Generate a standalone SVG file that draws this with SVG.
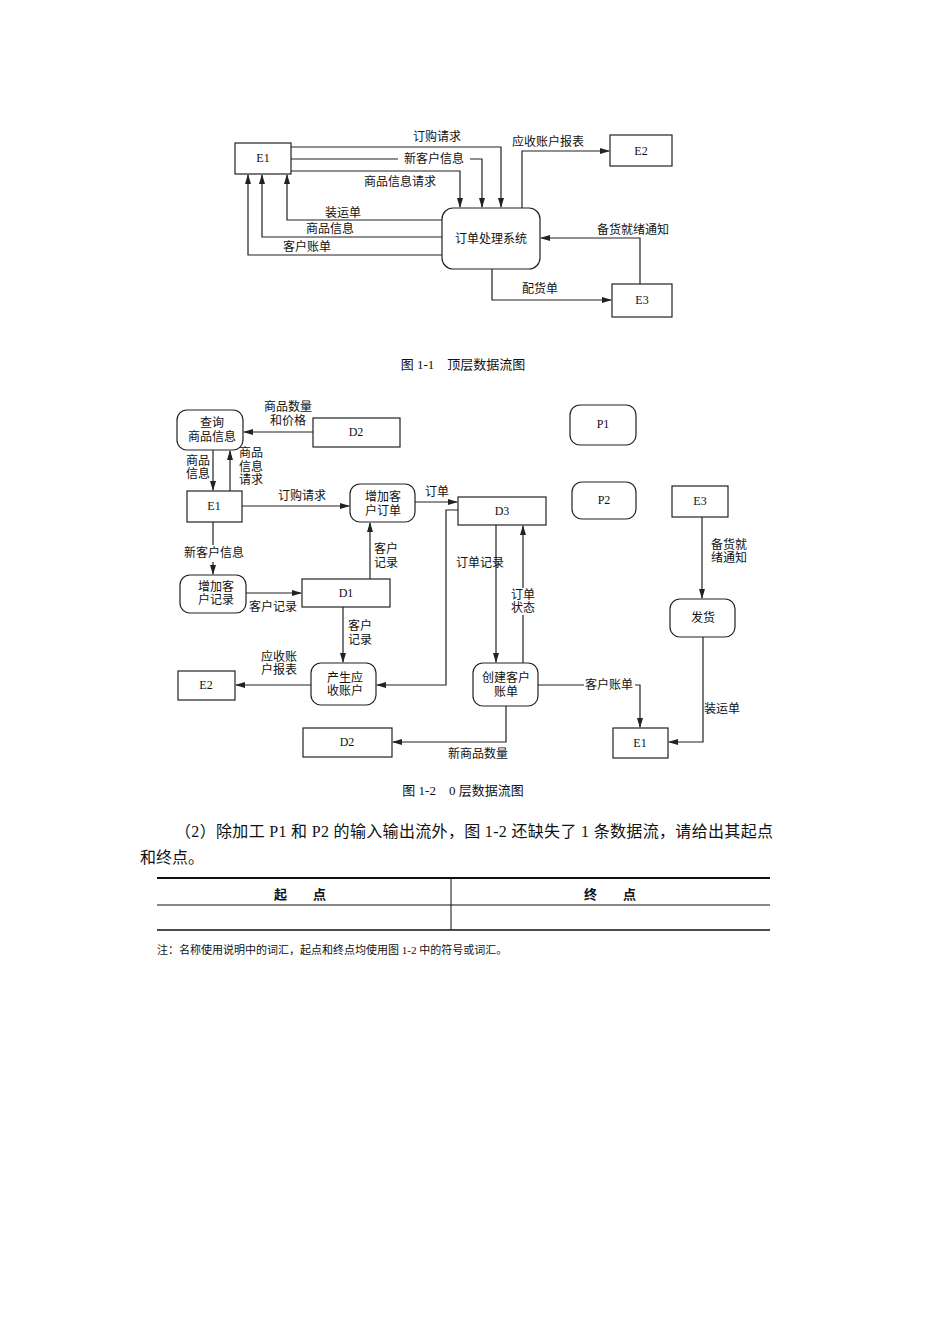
<svg xmlns="http://www.w3.org/2000/svg" width="950" height="1344" viewBox="0 0 950 1344">
<style>
.b{fill:#fff;stroke:#222;stroke-width:1.2}
.l{fill:none;stroke:#222;stroke-width:1.2}
.t{font-family:"Liberation Serif","Noto Sans CJK SC",serif;font-size:12px;fill:#111;text-anchor:middle;dominant-baseline:central}
.c{font-size:13px}
.p{font-size:16px;text-anchor:start}
</style>
<defs><marker id="a" markerWidth="10" markerHeight="8" refX="9" refY="4" orient="auto" markerUnits="userSpaceOnUse"><path d="M0,1 L10,4 L0,7 Z" fill="#222"/></marker></defs>
<rect width="950" height="1344" fill="#fff"/>
<g id="connectors">
<path class="l" d="M291,147 H501 V207" marker-end="url(#a)"/>
<path class="l" d="M291,159 H398 M470,159 H482 V207" marker-end="url(#a)"/>
<path class="l" d="M291,171 H460 V207" marker-end="url(#a)"/>
<path class="l" d="M442,220 H287 V175" marker-end="url(#a)"/>
<path class="l" d="M442,237 H262 V175" marker-end="url(#a)"/>
<path class="l" d="M442,255 H248 V175" marker-end="url(#a)"/>
<path class="l" d="M522,208 V151 H609" marker-end="url(#a)"/>
<path class="l" d="M640,284 V238 H541" marker-end="url(#a)"/>
<path class="l" d="M492,269 V300 H611" marker-end="url(#a)"/>
<path class="l" d="M313,432 H244" marker-end="url(#a)"/>
<path class="l" d="M213,450 V490" marker-end="url(#a)"/>
<path class="l" d="M230,491 V451" marker-end="url(#a)"/>
<path class="l" d="M242,506 H349" marker-end="url(#a)"/>
<path class="l" d="M415,502 H457" marker-end="url(#a)"/>
<path class="l" d="M458,510 H446 V685 H377" marker-end="url(#a)"/>
<path class="l" d="M213,522 V545 M213,562 V574" marker-end="url(#a)"/>
<path class="l" d="M246,593 H301" marker-end="url(#a)"/>
<path class="l" d="M370,579 V523" marker-end="url(#a)"/>
<path class="l" d="M343,607 V662" marker-end="url(#a)"/>
<path class="l" d="M311,685 H236" marker-end="url(#a)"/>
<path class="l" d="M496,525 V662" marker-end="url(#a)"/>
<path class="l" d="M523,663 V615 M523,588 V526" marker-end="url(#a)"/>
<path class="l" d="M506,706 V742 H393" marker-end="url(#a)"/>
<path class="l" d="M538,685 H584 M635,685 H640 V727" marker-end="url(#a)"/>
<path class="l" d="M703,637 V742 H669" marker-end="url(#a)"/>
<path class="l" d="M702,517 V598" marker-end="url(#a)"/>
</g>
<g id="E1top"><rect class="b" x="235" y="143" width="56" height="31"/><text class="t" x="263" y="158">E1</text></g>
<g id="proc0"><rect class="b" x="442" y="208" width="98" height="61" rx="11"/><text class="t" x="491" y="239">订单处理系统</text></g>
<g id="E2top"><rect class="b" x="610" y="135" width="62" height="31"/><text class="t" x="641" y="151">E2</text></g>
<g id="E3top"><rect class="b" x="612" y="284" width="60" height="33"/><text class="t" x="642" y="300">E3</text></g>
<g id="labels1">
<text class="t" x="437" y="137">订购请求</text>
<text class="t" x="434" y="159">新客户信息</text>
<text class="t" x="400" y="182">商品信息请求</text>
<text class="t" x="343" y="213">装运单</text>
<text class="t" x="330" y="229">商品信息</text>
<text class="t" x="307" y="247">客户账单</text>
<text class="t" x="548" y="142">应收账户报表</text>
<text class="t" x="633" y="230">备货就绪通知</text>
<text class="t" x="540" y="289">配货单</text>
<text class="t c" x="463" y="364">图 1-1　顶层数据流图</text>
</g>
<g id="query"><rect class="b" x="177" y="410" width="66" height="40" rx="10"/><text class="t" x="212" y="423">查询</text><text class="t" x="212" y="437">商品信息</text></g>
<g id="D2a"><rect class="b" x="313" y="418" width="87" height="29"/><text class="t" x="356" y="432">D2</text></g>
<g id="E1a"><rect class="b" x="187" y="491" width="55" height="31"/><text class="t" x="214" y="506">E1</text></g>
<g id="addOrder"><rect class="b" x="350" y="484" width="65" height="38" rx="10"/><text class="t" x="383" y="497">增加客</text><text class="t" x="383" y="511">户订单</text></g>
<g id="D3"><rect class="b" x="458" y="497" width="88" height="28"/><text class="t" x="502" y="511">D3</text></g>
<g id="P1"><rect class="b" x="570" y="405" width="66" height="40" rx="10"/><text class="t" x="603" y="424">P1</text></g>
<g id="P2"><rect class="b" x="572" y="482" width="64" height="37" rx="10"/><text class="t" x="604" y="500">P2</text></g>
<g id="E3"><rect class="b" x="672" y="486" width="56" height="31"/><text class="t" x="700" y="501">E3</text></g>
<g id="addCust"><rect class="b" x="180" y="575" width="66" height="38" rx="10"/><text class="t" x="216" y="587">增加客</text><text class="t" x="216" y="600">户记录</text></g>
<g id="D1"><rect class="b" x="302" y="579" width="88" height="28"/><text class="t" x="346" y="593">D1</text></g>
<g id="ship"><rect class="b" x="670" y="599" width="65" height="38" rx="10"/><text class="t" x="703" y="618">发货</text></g>
<g id="recv"><rect class="b" x="311" y="663" width="65" height="42" rx="10"/><text class="t" x="345" y="678">产生应</text><text class="t" x="345" y="691">收账户</text></g>
<g id="E2"><rect class="b" x="178" y="671" width="57" height="29"/><text class="t" x="206" y="685">E2</text></g>
<g id="bill"><rect class="b" x="473" y="663" width="65" height="43" rx="10"/><text class="t" x="506" y="678">创建客户</text><text class="t" x="506" y="692">账单</text></g>
<g id="D2b"><rect class="b" x="303" y="728" width="89" height="29"/><text class="t" x="347" y="742">D2</text></g>
<g id="E1b"><rect class="b" x="613" y="728" width="55" height="30"/><text class="t" x="640" y="743">E1</text></g>
<g id="labels2">
<text class="t" x="288" y="407">商品数量</text><text class="t" x="288" y="421">和价格</text>
<text class="t" x="198" y="461">商品</text><text class="t" x="198" y="474">信息</text>
<text class="t" x="251" y="453">商品</text><text class="t" x="251" y="467">信息</text><text class="t" x="251" y="480">请求</text>
<text class="t" x="302" y="496">订购请求</text>
<text class="t" x="437" y="492">订单</text>
<text class="t" x="214" y="553">新客户信息</text>
<text class="t" x="273" y="607">客户记录</text>
<text class="t" x="386" y="549">客户</text><text class="t" x="386" y="563">记录</text>
<text class="t" x="360" y="626">客户</text><text class="t" x="360" y="640">记录</text>
<text class="t" x="279" y="657">应收账</text><text class="t" x="279" y="670">户报表</text>
<text class="t" x="480" y="563">订单记录</text>
<text class="t" x="523" y="595">订单</text><text class="t" x="523" y="608">状态</text>
<text class="t" x="478" y="754">新商品数量</text>
<text class="t" x="609" y="685">客户账单</text>
<text class="t" x="722" y="709">装运单</text>
<text class="t" x="729" y="545">备货就</text><text class="t" x="729" y="558">绪通知</text>
<text class="t c" x="463" y="790">图 1-2　0 层数据流图</text>
</g>
<g id="question">
<text class="t p" x="175" y="831" textLength="598" lengthAdjust="spacing">（2）除加工 P1 和 P2 的输入输出流外，图 1-2 还缺失了 1 条数据流，请给出其起点</text>
<text class="t p" x="140" y="857">和终点。</text>
<line x1="157" y1="878" x2="770" y2="878" stroke="#111" stroke-width="2"/>
<line x1="157" y1="905" x2="770" y2="905" stroke="#111" stroke-width="1"/>
<line x1="157" y1="930" x2="770" y2="930" stroke="#111" stroke-width="1.5"/>
<line x1="451" y1="878" x2="451" y2="930" stroke="#111" stroke-width="1"/>
<text class="t c" x="300" y="894" font-weight="bold">起　　点</text>
<text class="t c" x="610" y="894" font-weight="bold">终　　点</text>
<text class="t" x="157" y="950" style="text-anchor:start;font-size:11px">注：名称使用说明中的词汇，起点和终点均使用图 1-2 中的符号或词汇。</text>
</g>
</svg>
